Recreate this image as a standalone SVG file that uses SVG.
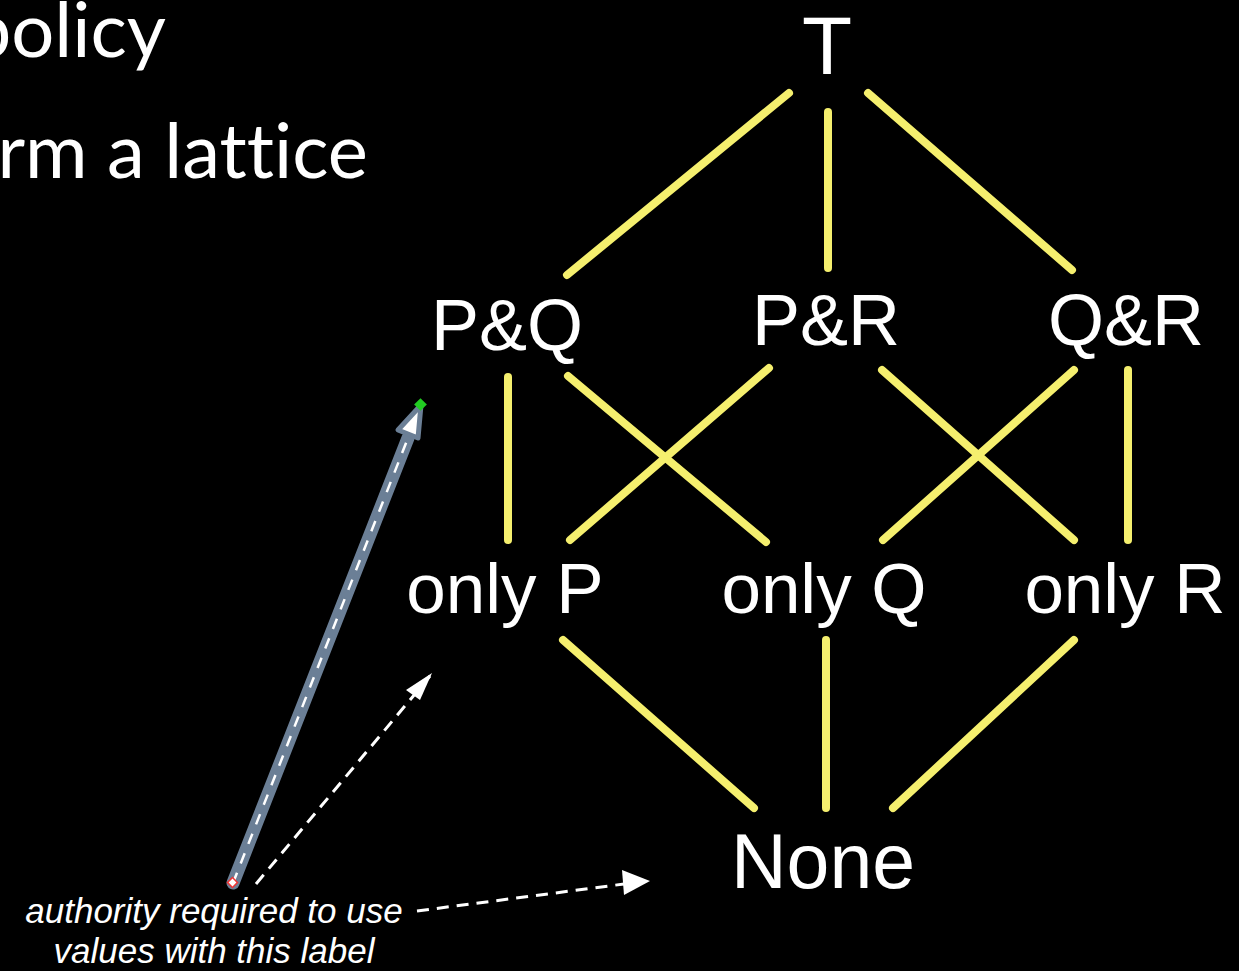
<svg xmlns="http://www.w3.org/2000/svg" width="1239" height="971" viewBox="0 0 1239 971">
<defs>
<style>
.lbl{font-family:"Liberation Sans",Arial,sans-serif;fill:#ffffff;text-anchor:middle}
.title{font-family:"Lato","Open Sans",sans-serif;fill:#ffffff;font-size:76px;text-anchor:end;font-variant-ligatures:none}
.edge{stroke:#f5ef6e;stroke-width:8;stroke-linecap:round;fill:none}
.cap{font-family:"Liberation Sans",Arial,sans-serif;font-style:italic;fill:#ffffff;font-size:35px;text-anchor:middle}
</style>
</defs>
<rect width="1239" height="971" fill="#000000"/>
<g id="title">
<text class="title" x="166" y="57">policy</text>
<text class="title" x="368" y="178">rm a lattice</text>
</g>
<g id="connectors">
<line class="edge" x1="789" y1="93" x2="567" y2="275"/>
<line class="edge" x1="828" y1="112" x2="828" y2="268"/>
<line class="edge" x1="868" y1="93" x2="1072" y2="270"/>
<line class="edge" x1="508" y1="377" x2="508" y2="540"/>
<line class="edge" x1="568" y1="376" x2="766" y2="542"/>
<line class="edge" x1="769" y1="368" x2="570" y2="540"/>
<line class="edge" x1="882" y1="370" x2="1074" y2="540"/>
<line class="edge" x1="1074" y1="370" x2="883" y2="540"/>
<line class="edge" x1="1128" y1="370" x2="1128" y2="540"/>
<line class="edge" x1="563" y1="640" x2="754" y2="808"/>
<line class="edge" x1="826" y1="640" x2="826" y2="808"/>
<line class="edge" x1="1074" y1="640" x2="893" y2="808"/>
<path d="M256,884 L430,676" stroke="#ffffff" stroke-width="3" stroke-dasharray="12 8" fill="none"/>
<path d="M432,673 L406,690 L420,700 Z" fill="#ffffff"/>
<path d="M417,911 L624,884" stroke="#ffffff" stroke-width="3" stroke-dasharray="12 8" fill="none"/>
<path d="M650,881 L622,870 L624,895 Z" fill="#ffffff"/>
</g>
<g id="gray-arrow">
<line x1="233" y1="883" x2="408" y2="438" stroke="#6b7f96" stroke-width="13" stroke-linecap="round"/>
<line x1="233" y1="883" x2="408" y2="438" stroke="#ffffff" stroke-width="2.5" stroke-dasharray="11 10"/>
<path d="M421,405 L398,430 L418,438 Z" fill="#ffffff" stroke="#6b7f96" stroke-width="5" stroke-linejoin="round"/>
<rect x="416" y="400" width="9" height="9" fill="#22cc22" transform="rotate(45 420.5 404.5)"/>
<rect x="229" y="879" width="7" height="7" fill="#ffffff" stroke="#ee3333" stroke-width="1.5" transform="rotate(45 232.5 882.5)"/>
</g>
<g id="node-top"><text class="lbl" x="827" y="74" font-size="82">T</text></g>
<g id="node-pq"><text class="lbl" x="507" y="350" font-size="72">P&amp;Q</text></g>
<g id="node-pr"><text class="lbl" x="826" y="345" font-size="72">P&amp;R</text></g>
<g id="node-qr"><text class="lbl" x="1126" y="345" font-size="72">Q&amp;R</text></g>
<g id="node-p"><text class="lbl" x="505" y="613" font-size="71">only P</text></g>
<g id="node-q"><text class="lbl" x="824" y="613" font-size="71">only Q</text></g>
<g id="node-r"><text class="lbl" x="1125" y="613" font-size="71">only R</text></g>
<g id="node-none"><text class="lbl" x="823" y="888" font-size="77">None</text></g>
<g id="caption">
<text class="cap" x="214" y="923">authority required to use</text>
<text class="cap" x="214" y="963">values with this label</text>
</g>
</svg>
